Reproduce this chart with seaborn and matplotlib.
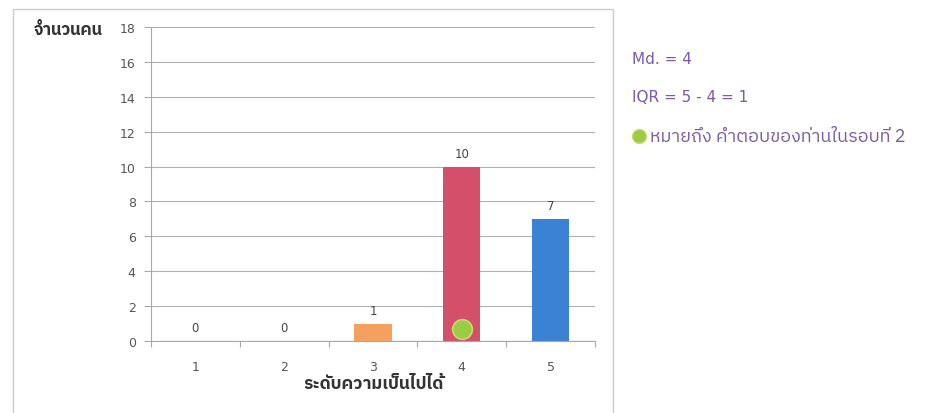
import matplotlib
matplotlib.use("Agg")
import matplotlib.pyplot as plt
import seaborn as sns
import pandas as pd
from matplotlib import font_manager as fm
from matplotlib.ft2font import FT2Font
from matplotlib.patches import Rectangle

# ---- data ----
categories = ["1", "2", "3", "4", "5"]
counts = [0, 0, 1, 10, 7]
bar_colors = ["#F3A15D", "#F3A15D", "#F3A15D", "#D4506A", "#3B82D4"]
marker_category = "4"
marker_value = 0.7
y_label = "จำนวนคน"
x_label = "ระดับความเป็นไปได้"
side_texts = ["Md. = 4", "IQR = 5 - 4 = 1"]
legend_text = "หมายถึง คำตอบของท่านในรอบที่ 2"

# ---- find a font with Thai glyphs ----
thai_font = None
cands = []
for f in fm.fontManager.ttflist:
    try:
        cm = FT2Font(f.fname).get_charmap()
        if 0x0E01 in cm and 0x0E33 in cm:
            cands.append(f.name)
    except Exception:
        pass
pref = [c for c in cands if "Thai" in c and "Looped" not in c]
if pref:
    thai_font = pref[0]
elif cands:
    thai_font = cands[0]

sns.set_theme(style="white")
fam = ([thai_font] if thai_font else []) + ["DejaVu Sans"]
latin_fam = ["DejaVu Sans"] + ([thai_font] if thai_font else [])
plt.rcParams["font.family"] = fam

df = pd.DataFrame({"cat": categories, "n": counts})

fig = plt.figure(figsize=(9.47, 4.14), dpi=100)
ax = fig.add_axes([151 / 947, 72 / 414, 444 / 947, 314 / 414])

sns.barplot(data=df, x="cat", y="n", hue="cat", palette=bar_colors,
            width=0.42, legend=False, ax=ax, saturation=1,
            edgecolor="none")

for cont in ax.containers:
    ax.bar_label(cont, padding=5, fontsize=8.5, color="#444444",
                 family=latin_fam)

xi = categories.index(marker_category)
ax.scatter([xi], [marker_value], s=200, color="#9ACD45",
           edgecolor="#C9DC6A", linewidth=1.2, zorder=5)

ax.set_ylim(0, 18)
ax.set_xlim(-0.5, 4.5)
ax.set_yticks(range(0, 19, 2))
ax.yaxis.grid(True, color="#B0B0B0", linewidth=0.8)
ax.set_axisbelow(True)
for s in ["top", "right"]:
    ax.spines[s].set_visible(False)
for s in ["left", "bottom"]:
    ax.spines[s].set_color("#A8A8A8")
    ax.spines[s].set_linewidth(0.8)

ax.tick_params(axis="y", which="major", length=5, width=0.8, color="#A8A8A8",
               labelsize=9, labelcolor="#555555", pad=6, left=True)
ax.tick_params(axis="x", which="major", length=0, labelsize=9,
               labelcolor="#555555", pad=14)
for lab in ax.get_xticklabels() + ax.get_yticklabels():
    lab.set_family(latin_fam)
ax.set_xticks([i + 0.5 for i in range(-1, 5)], minor=True)
ax.tick_params(axis="x", which="minor", length=4, width=0.8,
               color="#A8A8A8", bottom=True, direction="out")

ax.set_ylabel("")
ax.set_xlabel(x_label, fontsize=12.5, fontweight="bold", color="#333333",
              labelpad=1)

fig.text(103 / 947, 1 - 30 / 414, y_label, ha="right", va="center",
         fontsize=12, fontweight="bold", color="#333333")

# outer chart frame
fig.patches.append(Rectangle((13 / 947, -0.05), 600 / 947, 1.05 - 10 / 414,
                             transform=fig.transFigure, fill=False,
                             edgecolor="#CCCCCC", linewidth=1.0))

purple = "#7A5AA6"
fig.text(632 / 947, 1 - 60 / 414, side_texts[0], ha="left", va="center",
         fontsize=11, color=purple, family=latin_fam)
fig.text(632 / 947, 1 - 98 / 414, side_texts[1], ha="left", va="center",
         fontsize=11, color=purple, family=latin_fam)
fig.text(650 / 947, 1 - 137 / 414, legend_text, ha="left", va="center",
         fontsize=13, color=purple)
fig.add_artist(plt.Line2D([639 / 947], [1 - 137 / 414], marker="o",
                          markersize=10, color="#9ACD45",
                          markeredgecolor="#C9DC6A",
                          transform=fig.transFigure))

fig.savefig("out.png", dpi=100)
